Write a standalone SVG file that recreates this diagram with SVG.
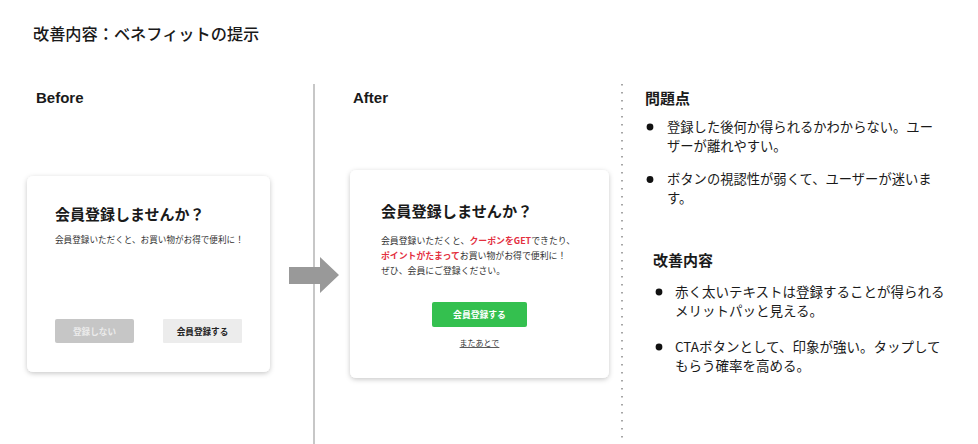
<svg xmlns="http://www.w3.org/2000/svg" width="978" height="444" viewBox="0 0 978 444">
<defs>
<filter id="sh" x="-10%" y="-10%" width="120%" height="125%">
<feDropShadow dx="0" dy="1.5" stdDeviation="2.5" flood-color="#000" flood-opacity="0.22"/>
</filter>
</defs>
<style>
text{font-family:"Noto Sans CJK JP","Liberation Sans",sans-serif;fill:#1a1a1a}
.h{font-size:15px;font-weight:bold}
.lat{font-family:"Liberation Sans","Noto Sans CJK JP",sans-serif;font-size:15px;font-weight:bold}
.b{font-size:13.3px}
.s{font-size:8.6px;fill:#333}
.r{fill:#e3303f;font-weight:bold}
.card{fill:#fff;filter:url(#sh)}
.dot{fill:#111}
</style>
<rect width="978" height="444" fill="#fff"/>
<text x="33" y="40" style="font-size:16.2px;font-weight:500">改善内容：ベネフィットの提示</text>
<text class="lat" x="36" y="103">Before</text>
<text class="lat" x="353" y="103">After</text>
<g id="connectors">
<line x1="314" y1="84" x2="314" y2="444" stroke="#b4b4b4" stroke-width="1.5"/>
<line x1="622" y1="84" x2="622" y2="444" stroke="#888" stroke-width="1.5" stroke-dasharray="1.5 6.5"/>
<polygon points="289,267 320,267 320,257 339,275 320,293 320,284 289,284" fill="#999"/>
</g>
<g id="before-card">
<rect class="card" x="27" y="176" width="243" height="196" rx="6"/>
<text class="h" x="55" y="220">会員登録しませんか？</text>
<text class="s" x="55" y="243">会員登録いただくと、お買い物がお得で便利に！</text>
<rect x="55" y="319" width="79" height="24" rx="2" fill="#c6c6c6"/>
<text x="94.5" y="335" text-anchor="middle" style="font-size:8.6px;font-weight:bold;fill:#ebebeb">登録しない</text>
<rect x="163" y="319" width="79" height="24" rx="1" fill="#ececec"/>
<text x="202.5" y="335" text-anchor="middle" style="font-size:8.6px;font-weight:bold;fill:#222">会員登録する</text>
</g>
<g id="after-card">
<rect class="card" x="350" y="170" width="259" height="208" rx="6"/>
<text class="h" x="381" y="217" style="font-size:15.2px">会員登録しませんか？</text>
<text class="s" x="381" y="244" style="font-size:8.9px">会員登録いただくと、<tspan class="r">クーポンをGET</tspan>できたり、</text>
<text class="s" x="381" y="259" style="font-size:8.9px"><tspan class="r">ポイントがたまって</tspan>お買い物がお得で便利に！</text>
<text class="s" x="381" y="274" style="font-size:8.9px">ぜひ、会員にご登録ください。</text>
<rect x="432" y="302" width="95" height="25" rx="2" fill="#34c04f"/>
<text x="479.5" y="318" text-anchor="middle" style="font-size:8.8px;font-weight:bold;fill:#fff">会員登録する</text>
<text x="479.5" y="346" text-anchor="middle" style="font-size:8px;fill:#333" text-decoration="underline">またあとで</text>
</g>
<g id="problems">
<text class="h" x="645" y="104">問題点</text>
<circle class="dot" cx="650" cy="127" r="3.4"/>
<text class="b" x="667" y="131.5">登録した後何か得られるかわからない。ユー</text>
<text class="b" x="667" y="150.5">ザーが離れやすい。</text>
<circle class="dot" cx="650" cy="179.5" r="3.4"/>
<text class="b" x="667" y="184">ボタンの視認性が弱くて、ユーザーが迷いま</text>
<text class="b" x="667" y="203">す。</text>
</g>
<g id="improvements">
<text class="h" x="653" y="266">改善内容</text>
<circle class="dot" cx="659" cy="292" r="3.4"/>
<text class="b" x="675" y="297" style="font-size:13.5px">赤く太いテキストは登録することが得られる</text>
<text class="b" x="675" y="316" style="font-size:13.5px">メリットパッと見える。</text>
<circle class="dot" cx="659" cy="347" r="3.4"/>
<text class="b" x="675" y="352" style="font-size:13.5px">CTAボタンとして、印象が強い。タップして</text>
<text class="b" x="675" y="371" style="font-size:13.5px">もらう確率を高める。</text>
</g>
</svg>
